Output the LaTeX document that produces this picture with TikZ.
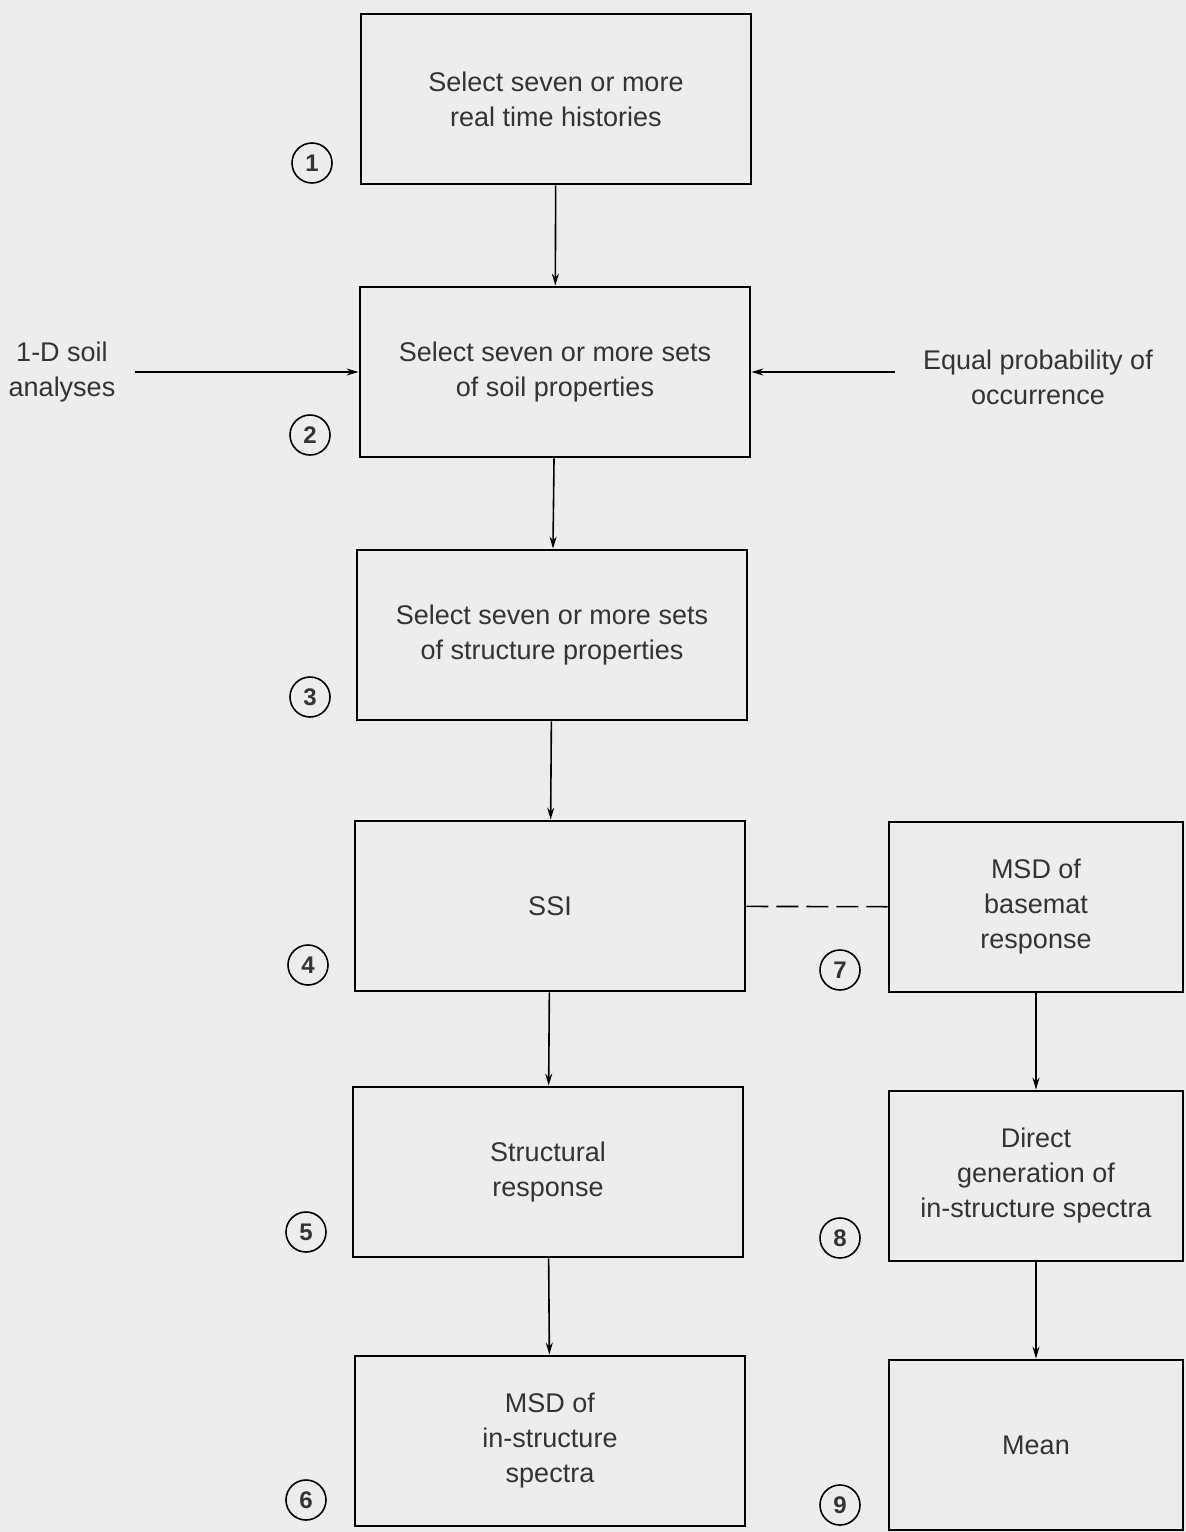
\documentclass[tikz,border=0pt]{standalone}
\usepackage{fontspec}
\setmainfont{Liberation Sans}
\usetikzlibrary{arrows.meta}
\begin{document}
\begin{tikzpicture}[x=0.5pt,y=-0.5pt,
    box/.style={draw,line width=1.4pt,minimum width=195pt,minimum height=85pt,align=center,inner sep=0pt},
    sidebox/.style={box,minimum width=147pt},
    num/.style={draw,circle,line width=0.8pt,minimum size=20pt,inner sep=0pt,font=\fontsize{12}{12}\selectfont\bfseries},
    link/.style={draw,line width=0.8pt,-{Stealth[length=6pt,width=3.5pt]}}]
  \fill[gray!14] (0,0) rectangle (1186,1532);
  \begin{scope}[font=\fontsize{13.5}{17.5}\selectfont,text=black!80]
    \node[box] (box1) at (556,99) {Select seven or more\\real time histories};
    \node[box] (box2) at (555,372) {Select seven or more sets\\of soil properties};
    \node[box] (box3) at (552,635) {Select seven or more sets\\of structure properties};
    \node[box] (box4) at (550,906) {SSI};
    \node[box] (box5) at (548,1172) {Structural\\response};
    \node[box] (box6) at (550,1441) {MSD of\\in-structure\\spectra};

    \node[sidebox] (box7) at (1036,907) {MSD of\\basemat\\response};
    \node[sidebox] (box8) at (1036,1176) {Direct\\generation of\\in-structure spectra};
    \node[sidebox] (box9) at (1036,1445) {Mean};

    \node[align=center] (soil) at (62,372) {1-D soil\\analyses};
    \node[align=center] (prob) at (1038,377) {Equal probability of\\occurrence};
    \coordinate (soilend) at (135,372);
    \coordinate (probend) at (895,372);

    \node[num] (n1) at (312,163) {1};
    \node[num] (n2) at (310,435) {2};
    \node[num] (n3) at (310,697) {3};
    \node[num] (n4) at (308,965) {4};
    \node[num] (n5) at (306,1232) {5};
    \node[num] (n6) at (306,1500) {6};
    \node[num] (n7) at (840,970) {7};
    \node[num] (n8) at (840,1238) {8};
    \node[num] (n9) at (840,1505) {9};

    \path[link] (box1) -- (box2);
    \path[link] (box2) -- (box3);
    \path[link] (box3) -- (box4);
    \path[link] (box4) -- (box5);
    \path[link] (box5) -- (box6);
    \path[link] (box7) -- (box8);
    \path[link] (box8) -- (box9);

    \path[link] (soilend) -- (box2);
    \path[link] (probend) -- (box2);

    \path[draw,line width=0.8pt,dash pattern=on 11pt off 4pt] (box4) -- (box7);
  \end{scope}
\end{tikzpicture}
\end{document}
